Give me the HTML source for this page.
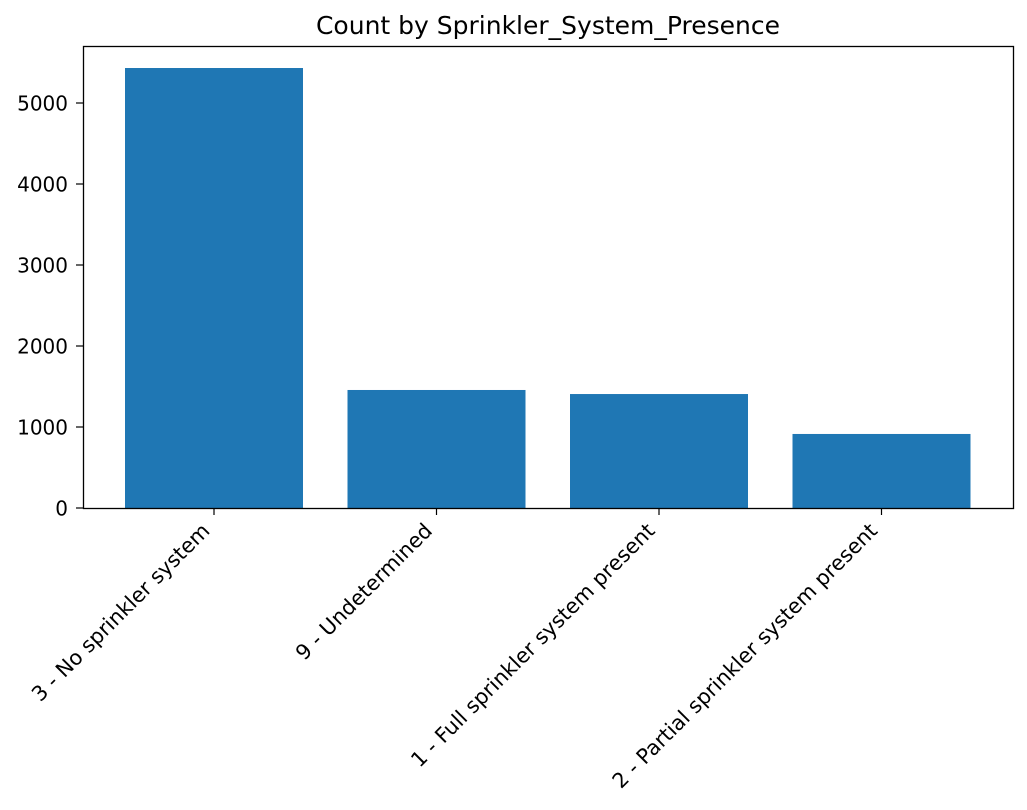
<!DOCTYPE html>
<html><head><meta charset="utf-8"><style>
html,body{margin:0;padding:0;background:#fff;}
svg{display:block;font-family:"DejaVu Sans","Liberation Sans",sans-serif;}
</style></head><body>
<svg id="chart" width="1027" height="810">
<text x="548" y="34" text-anchor="middle" font-size="25">Count by Sprinkler_System_Presence</text>
<g id="plot"></g>
<rect x="83.5" y="46.5" width="930" height="462" fill="none" stroke="#000" stroke-width="1.3"/>
</svg>
<script>
const categories = ["3 - No sprinkler system","9 - Undetermined","1 - Full sprinkler system present","2 - Partial sprinkler system present"];
const counts = [5432, 1457, 1407, 914];
const yTicks = [0,1000,2000,3000,4000,5000];

const NS="http://www.w3.org/2000/svg";
const g=document.getElementById('plot');
const y0=508, pxPer=0.081;
function yScale(v){return y0-v*pxPer;}
function xCenter(i){return 214+222.5*i;}
const bw=178;
function mk(t,a){const e=document.createElementNS(NS,t);for(const k in a)e.setAttribute(k,a[k]);g.appendChild(e);return e;}
counts.forEach((v,i)=>{
  const r=mk('rect',{x:xCenter(i)-bw/2,y:yScale(v),width:bw,height:y0-yScale(v),fill:'#1f77b4'});
  
  
  const t=mk('line',{x1:xCenter(i),x2:xCenter(i),y1:508,y2:515,stroke:'#000','stroke-width':1.2});
  
  
  const lx=xCenter(i)-3, ly=532;
  const l=mk('text',{x:lx,y:ly,'text-anchor':'end','font-size':20.8,transform:`rotate(-45 ${lx} ${ly})`});
  l.textContent=categories[i];
  
  
});
yTicks.forEach(v=>{
  const y=yScale(v);
  const t=mk('line',{x1:76,x2:83,y1:y,y2:y,stroke:'#000','stroke-width':1.2});
  
  
  const l=mk('text',{x:68,y:y+7.3,'text-anchor':'end','font-size':20});
  l.textContent=v;
  
  
});
</script>
</body></html>
